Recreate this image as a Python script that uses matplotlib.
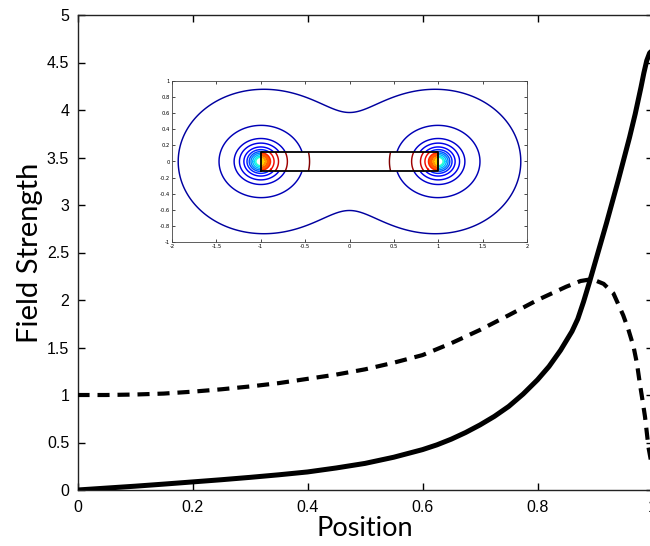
import numpy as np
import matplotlib
matplotlib.use("Agg")
import matplotlib.pyplot as plt
from matplotlib.ticker import FuncFormatter, MultipleLocator

# ---------------- main chart data ----------------
solid_x = [0, 0.05, 0.1, 0.15, 0.2, 0.25, 0.3, 0.35, 0.4, 0.45, 0.5, 0.55, 0.6,
           0.625, 0.65, 0.675, 0.7, 0.725, 0.75, 0.775, 0.8, 0.82, 0.84, 0.86,
           0.87, 0.88, 0.89, 0.9, 0.91, 0.92, 0.93, 0.94, 0.95, 0.96, 0.97,
           0.98, 0.985, 0.99, 0.995, 1.0]
solid_y = [0, 0.02, 0.04, 0.062, 0.085, 0.108, 0.133, 0.16, 0.19, 0.232, 0.28,
           0.345, 0.425, 0.475, 0.535, 0.605, 0.685, 0.775, 0.88, 1.01, 1.16,
           1.30, 1.47, 1.67, 1.80, 1.98, 2.18, 2.39, 2.60, 2.81, 3.03, 3.25,
           3.48, 3.71, 3.96, 4.24, 4.39, 4.52, 4.60, 4.63]

dashed_x = [0, 0.05, 0.1, 0.15, 0.2, 0.25, 0.3, 0.35, 0.4, 0.45, 0.5, 0.55,
            0.6, 0.65, 0.7, 0.75, 0.8, 0.85, 0.875, 0.895, 0.915, 0.932, 0.949,
            0.958, 0.967, 0.973, 0.978, 0.983, 0.987, 0.993, 1.0]
dashed_y = [1.0, 1.0, 1.005, 1.015, 1.035, 1.06, 1.09, 1.125, 1.17, 1.215, 1.27,
            1.34, 1.42, 1.545, 1.685, 1.84, 2.00, 2.14, 2.20, 2.22, 2.17, 2.07,
            1.84, 1.69, 1.51, 1.33, 1.12, 0.93, 0.77, 0.45, 0.22]

x_ticks = [0, 0.2, 0.4, 0.6, 0.8, 1.0]
y_ticks = [0, 0.5, 1, 1.5, 2, 2.5, 3, 3.5, 4, 4.5, 5]

# ---------------- inset data ----------------
charge_x = [-1.0, 1.0]
bar_half_height = 0.12
field_decay = 1.7
field_aniso_y = 0.95
outer_radii = [0.93, 0.47, 0.30, 0.24, 0.19, 0.155, 0.13, 0.11, 0.09, 0.07, 0.055]
outer_cvals = [0.03, 0.05, 0.07, 0.09, 0.12, 0.16, 0.20, 0.25, 0.30, 0.35, 0.40]
inner_radii = [0.55, 0.30, 0.20, 0.15, 0.11]
inner_cvals = [1.0, 0.97, 0.93, 0.90, 0.87]
core_radii = [0.0, 0.025, 0.05, 0.075, 0.10]
core_cvals = [0.63, 0.69, 0.75, 0.81]

fig = plt.figure(figsize=(6.5, 5.46), dpi=100)
ax = fig.add_axes([77.5 / 650, (546 - 490) / 546, 575 / 650, 475 / 546])

ax.plot(solid_x, solid_y, color="black", lw=3.6, solid_capstyle="round",
        solid_joinstyle="round", zorder=3)
ax.plot(dashed_x, dashed_y, color="black", lw=3.0, dashes=(2.9, 1.9),
        dash_capstyle="butt", dash_joinstyle="round", zorder=3)

ax.set_xlim(0, 1)
ax.set_ylim(0, 5)
ax.set_xticks(x_ticks)
ax.set_yticks(y_ticks)
fmt = FuncFormatter(lambda v, p: "%g" % round(v, 8))
ax.xaxis.set_major_formatter(fmt)
ax.yaxis.set_major_formatter(fmt)
ax.tick_params(direction="in", length=5, width=1.0, top=True, right=True,
               labelsize=11.5)
ax.tick_params(axis="x", pad=7)
ax.tick_params(axis="y", pad=6)
for lab in ax.get_xticklabels() + ax.get_yticklabels():
    lab.set_fontfamily("Liberation Sans")
for s in ax.spines.values():
    s.set_linewidth(1.0)
    s.set_color("#222222")
ax.set_xlabel("Position", fontsize=19.5, family="Lato", labelpad=1)
ax.set_ylabel("Field Strength", fontsize=21, family="Lato", labelpad=3)

# ---------------- inset ----------------
jet = plt.get_cmap("jet")
ins = fig.add_axes([172 / 650, (546 - 242) / 546, 355 / 650, 161 / 546])
xs = np.linspace(-2, 2, 801)
ys = np.linspace(-1, 1, 401)
X, Y = np.meshgrid(xs, ys)


def field(px, py):
    total = 0.0
    for cx in charge_x:
        r = np.hypot(px - cx, py / field_aniso_y)
        total = total + np.exp(-field_decay * r) / np.maximum(r, 1e-3)
    return total


inside = (np.abs(X) <= 1.0) & (np.abs(Y) <= bar_half_height)
F = np.ma.masked_where(inside, field(X, Y))
lv = [float(field(np.array(charge_x[0] - r), np.array(0.0))) for r in outer_radii]
order = np.argsort(lv)
ins.contour(X, Y, F, levels=[lv[i] for i in order],
            colors=[jet(outer_cvals[i]) for i in order], linewidths=1.05)

R = np.minimum(np.hypot(X - charge_x[0], Y), np.hypot(X - charge_x[1], Y))
Rin = np.ma.masked_where(~inside, R)
ins.contourf(X, Y, Rin, levels=core_radii, colors=[jet(c) for c in core_cvals])
iorder = np.argsort(inner_radii)
ins.contour(X, Y, Rin, levels=[inner_radii[i] for i in iorder],
            colors=[jet(inner_cvals[i]) for i in iorder], linewidths=1.05)
ins.plot([-1, 1, 1, -1, -1],
         [-bar_half_height, -bar_half_height, bar_half_height, bar_half_height,
          -bar_half_height], color="black", lw=1.3)

ins.set_xlim(-2, 2)
ins.set_ylim(-1, 1)
ins.xaxis.set_major_locator(MultipleLocator(0.5))
ins.yaxis.set_major_locator(MultipleLocator(0.2))
ins.xaxis.set_major_formatter(fmt)
ins.yaxis.set_major_formatter(fmt)
ins.tick_params(direction="in", length=2.5, width=0.5, top=True, right=True,
                labelsize=3.8, pad=1.5)
for s in ins.spines.values():
    s.set_linewidth(0.6)
    s.set_color("#444444")

fig.savefig("out.png", dpi=100)
